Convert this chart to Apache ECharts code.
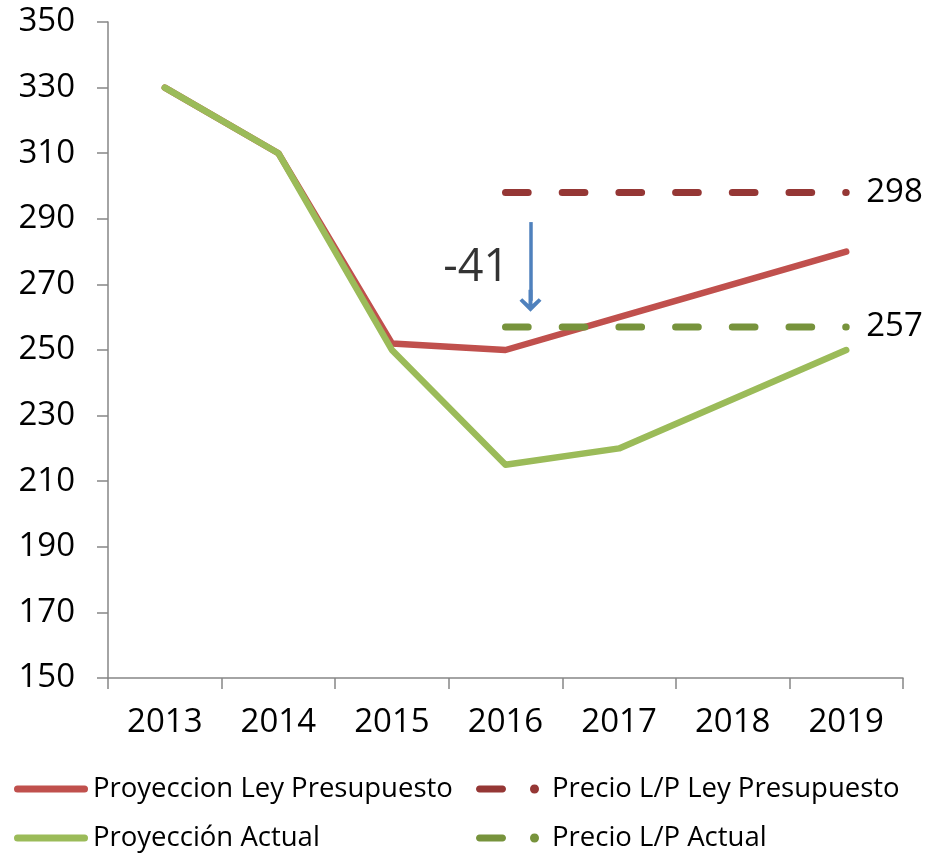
<!DOCTYPE html>
<html>
<head>
<meta charset="utf-8">
<script src="https://cdn.jsdelivr.net/npm/echarts@6/dist/echarts.min.js"></script>
<style>
  html, body { margin: 0; padding: 0; background: #fff; }
  #chart_box { width: 935px; height: 857px; }
</style>
</head>
<body>
<div id="chart_box"></div>
<script>
// datos
var years = ["2013", "2014", "2015", "2016", "2017", "2018", "2019"];
var proyeccionLey = [330, 310, 252, 250, 260, 270, 280];
var proyeccionActual = [330, 310, 250, 215, 220, 235, 250];
var precioLey = [null, null, null, 298, 298, 298, 298];
var precioActual = [null, null, null, 257, 257, 257, 257];
var yTicks = { min: 150, max: 350, interval: 20 };
// flecha -41 (posicion x en indice de categoria)
var arrowX = 3.22;
var arrowFrom = 289;
var arrowTo = 265;
var diffLabelPos = [3.05, 275];
var diff = precioActual[6] - precioLey[6];

var font = "Open Sans";
var names = ["Proyeccion Ley Presupuesto", "Precio L/P Ley Presupuesto", "Proyección Actual", "Precio L/P Actual"];

// iconos de leyenda
var solidIcon = "path://M3.5,0 H70.5 A3.5,3.5 0 0 1 70.5,7 H3.5 A3.5,3.5 0 0 1 3.5,0 Z";
var dashIcon = "path://M4,0 H27 C29,0 30.5,1.6 30.5,3.5 C30.5,5.4 29,7 27,7 H4 C2,7 0.5,5.4 0.5,3.5 C0.5,1.6 2,0 4,0 Z " +
  "M59,-1 C61.8,-1 63.5,1 63.5,3.5 C63.5,6 61.8,8 59,8 C56.2,8 54.5,6 54.5,3.5 C54.5,1 56.2,-1 59,-1 Z";

var myChart = echarts.init(document.getElementById("chart_box"));

function legendItem(name, icon, left, top, w, h, padLeft) {
  return {
    data: [name],
    left: left,
    top: top,
    orient: "horizontal",
    icon: icon,
    itemWidth: w,
    itemHeight: h,
    padding: 0,
    selectedMode: false,
    textStyle: { fontFamily: font, fontSize: 27.5, color: "#000", padding: [0, 0, 0, padLeft] }
  };
}

var option = {
  animation: false,
  grid: { left: 108, right: 32, top: 22, bottom: 179, containLabel: false },
  legend: [
    legendItem(names[0], solidIcon, 14, 775, 74, 7, 0),
    legendItem(names[1], dashIcon, 476, 775, 63, 9, 8),
    legendItem(names[2], solidIcon, 14, 824, 74, 7, 0),
    legendItem(names[3], dashIcon, 476, 824, 63, 9, 8)
  ],
  xAxis: [
    {
      type: "category",
      data: years,
      boundaryGap: true,
      axisLine: { lineStyle: { color: "#868686", width: 1.5 } },
      axisTick: { show: true, length: 11, lineStyle: { color: "#868686", width: 1.5 } },
      axisLabel: { fontFamily: font, fontSize: 33, color: "#000", margin: 28 }
    },
    { type: "value", min: -0.5, max: 6.5, show: false }
  ],
  yAxis: {
    type: "value",
    min: yTicks.min,
    max: yTicks.max,
    interval: yTicks.interval,
    splitLine: { show: false },
    axisLine: { show: true, onZero: false, lineStyle: { color: "#868686", width: 1.5 } },
    axisTick: { show: true, length: 11, lineStyle: { color: "#868686", width: 1.5 } },
    axisLabel: { fontFamily: font, fontSize: 33, color: "#000", margin: 33 }
  },
  series: [
    {
      name: names[0],
      type: "line",
      data: proyeccionLey,
      symbol: "none",
      color: "#C0504D",
      lineStyle: { width: 6.5, color: "#C0504D", cap: "round", join: "round" }
    },
    {
      name: names[1],
      type: "line",
      data: precioLey,
      symbol: "none",
      color: "#953735",
      lineStyle: { width: 7, color: "#953735", type: [22.7, 34], cap: "round" },
      endLabel: {
        show: true,
        distance: 20,
        fontFamily: font,
        fontSize: 33,
        color: "#000",
        formatter: function (p) { return p.value; }
      }
    },
    {
      name: names[2],
      type: "line",
      data: proyeccionActual,
      symbol: "none",
      color: "#9BBB59",
      lineStyle: { width: 6.5, color: "#9BBB59", cap: "round", join: "round" }
    },
    {
      name: names[3],
      type: "line",
      data: precioActual,
      symbol: "none",
      color: "#77933C",
      lineStyle: { width: 7, color: "#77933C", type: [22.7, 34], cap: "round" },
      endLabel: {
        show: true,
        distance: 20,
        fontFamily: font,
        fontSize: 33,
        color: "#000",
        formatter: function (p) { return p.value; }
      }
    },
    {
      name: "flecha",
      type: "scatter",
      xAxisIndex: 1,
      symbolSize: 0,
      silent: true,
      data: [diffLabelPos],
      label: {
        show: true,
        position: "left",
        distance: 2,
        fontFamily: font,
        fontSize: 45,
        color: "#000",
        formatter: function () { return String(diff); }
      },
      markLine: {
        silent: true,
        symbol: ["none", "path://M10,0 L20,11 L17.5,13.5 L11.8,7.8 L11.8,22 L8.2,22 L8.2,7.8 L2.5,13.5 L0,11 Z"],
        symbolSize: [22, 22],
        label: { show: false },
        lineStyle: { color: "#4F81BD", width: 3.5, type: "solid" },
        data: [[{ coord: [arrowX, arrowFrom] }, { coord: [arrowX, arrowTo] }]]
      }
    }
  ]
};

myChart.setOption(option);
</script>
</body>
</html>
